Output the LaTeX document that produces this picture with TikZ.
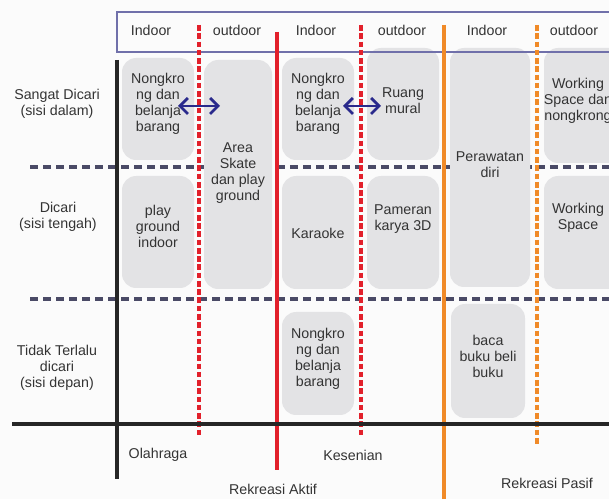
\documentclass[tikz,border=0pt]{standalone}
\usepackage{fontspec}
\setmainfont{Liberation Sans}
\usepackage{tikz}
\usetikzlibrary{arrows.meta}
\definecolor{paper}{HTML}{FBFBFB}
\definecolor{boxgray}{HTML}{E3E3E5}
\definecolor{txtgray}{HTML}{333333}
\definecolor{rowline}{HTML}{4A4A66}
\definecolor{actred}{HTML}{E2202B}
\definecolor{pasorange}{HTML}{F08A28}
\definecolor{headblue}{HTML}{7070AA}
\definecolor{arrowblue}{HTML}{2A2A8C}

\begin{document}
\begin{tikzpicture}[x=0.02cm, y=-0.02cm,
    area/.style={fill=boxgray, rounded corners=8pt},
    txt/.style={text=txtgray, align=center, inner sep=0pt, font=\fontsize{8.1}{9.1}\selectfont},
    rowsep/.style={rowline, line width=2.2pt, dash pattern=on 4.6pt off 2.8pt},
    redsolid/.style={actred, line width=2.2pt},
    reddash/.style={actred, line width=2.3pt, dash pattern=on 3.2pt off 1.5pt},
    orgsolid/.style={pasorange, line width=2.2pt},
    orgdash/.style={pasorange, line width=2.3pt, dash pattern=on 3.2pt off 1.5pt},
    axis/.style={black!85, line width=2.4pt},
    swap/.style={arrowblue, line width=1.6pt, {Straight Barb[length=4.5pt, width=9pt]}-{Straight Barb[length=4.5pt, width=9pt]}}
]
    \clip (0, 0) rectangle (609, 499);
    \fill[paper] (0, 0) rectangle (609, 499);

    \draw[rowsep] (30, 167) -- (609, 167);
    \draw[rowsep] (30, 299) -- (609, 299);

    \fill[area] (122, 58) rectangle (194, 160);
    \fill[area] (204, 60) rectangle (272, 289);
    \fill[area] (122, 176) rectangle (194, 288);
    \fill[area] (282, 58) rectangle (354, 160);
    \fill[area] (367, 48) rectangle (439, 160);
    \fill[area] (450, 48) rectangle (530, 287);
    \fill[area] (544, 48) rectangle (640, 163);
    \fill[area] (282, 176) rectangle (354, 289);
    \fill[area] (367, 176) rectangle (439, 289);
    \fill[area] (544, 176) rectangle (640, 289);
    \fill[area] (282, 312) rectangle (354, 415);
    \fill[area] (451, 304) rectangle (525, 418);

    \draw[headblue, line width=0.6pt] (117, 12) rectangle (640, 52);

    \draw[reddash] (199, 25) -- (199, 435);
    \draw[redsolid] (277, 32) -- (277, 470);
    \draw[reddash] (361, 25) -- (361, 435);
    \draw[orgsolid] (444, 25) -- (444, 499);
    \draw[orgdash] (537, 25) -- (537, 445);

    \draw[axis] (117, 60) -- (117, 479);
    \draw[axis] (12, 424) -- (609, 424);

    \node[txt] (hin1) at (151, 30) {Indoor};
    \node[txt] (hout1) at (237, 30) {outdoor};
    \node[txt] (hin2) at (316, 30) {Indoor};
    \node[txt] (hout2) at (402, 30) {outdoor};
    \node[txt] (hin3) at (487, 30) {Indoor};
    \node[txt] (hout3) at (574, 30) {outdoor};

    \node[txt] (rowtop) at (57, 104) {Sangat Dicari\\(sisi dalam)};
    \node[txt] (rowmid) at (58, 217) {Dicari\\(sisi tengah)};
    \node[txt] (rowlow) at (57, 368) {Tidak Terlalu\\dicari\\(sisi depan)};

    \node[txt] (nongkrong) at (158, 104) {Nongkro\\ng dan\\belanja\\barang};
    \node[txt] (skate) at (238, 173) {Area\\Skate\\dan play\\ground};
    \node[txt] (playin) at (158, 226) {play\\ground\\indoor};
    \node[txt] (nongkrongk) at (318, 104) {Nongkro\\ng dan\\belanja\\barang};
    \node[txt] (mural) at (403, 101) {Ruang\\mural};
    \node[txt] (rawat) at (490, 165) {Perawatan\\diri};
    \node[txt] (workdan) at (578, 101) {Working\\Space dan\\nongkrong};
    \node[txt] (karaoke) at (318, 233) {Karaoke};
    \node[txt] (pameran) at (403, 219) {Pameran\\karya 3D};
    \node[txt] (work) at (578, 218) {Working\\Space};
    \node[txt] (nongkrongd) at (318, 359) {Nongkro\\ng dan\\belanja\\barang};
    \node[txt] (baca) at (488, 356) {baca\\buku beli\\buku};

    \node[txt] (olah) at (158, 455) {Olahraga};
    \node[txt] (seni) at (353, 455) {Kesenian};
    \node[txt] (aktif) at (273, 489) {Rekreasi Aktif};
    \node[txt] (pasif) at (547, 483) {Rekreasi Pasif};

    \coordinate (olahL) at (178, 106);
    \coordinate (olahR) at (220, 106);
    \coordinate (seniL) at (343, 106);
    \coordinate (seniR) at (381, 106);
    \draw[swap] (olahL) -- (olahR);
    \draw[swap] (seniL) -- (seniR);
\end{tikzpicture}
\end{document}
